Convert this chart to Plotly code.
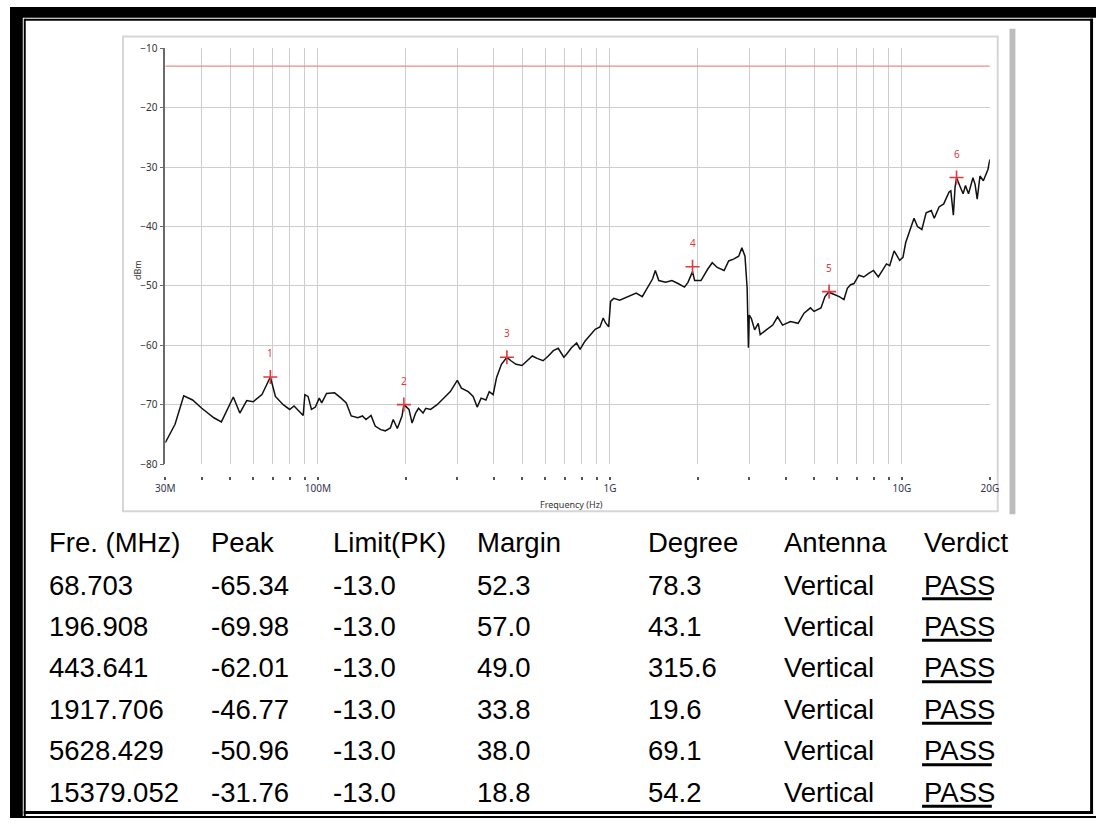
import numpy as np
import plotly.graph_objects as go

W, H = 1105, 825

# --- trace (MHz, dBm) ---
freq_mhz = [30.0, 32.4, 34.7, 37.2, 40.0, 44.0, 46.7, 51.3, 54.0, 57.0, 60.0, 64.3, 68.7,
            71.5, 76.0, 80.0, 82.8, 87.0, 89.0, 90.2, 92.5, 95.0, 98.0, 101, 103, 107, 114,
            120, 125, 130, 137, 142, 146, 152, 157, 164, 170, 177, 181, 187, 194, 196.9,
            205, 210, 216, 221, 229, 234, 243, 256, 270, 284, 300, 310, 327, 340, 351, 362,
            376, 386, 398, 409, 425, 443.6, 458, 477, 500, 523, 542, 563, 590, 615, 640, 665,
            695, 710, 738, 769, 790, 821, 855, 890, 924, 948, 965, 990, 1005, 1030, 1080,
            1150, 1230, 1290, 1330, 1400, 1430, 1470, 1550, 1630, 1710, 1800, 1850, 1917.7,
            1950, 2050, 2160, 2240, 2330, 2460, 2550, 2650, 2760, 2830, 2900, 2950, 2980,
            3000, 3050, 3130, 3220, 3270, 3430, 3610, 3750, 3900, 4150, 4410, 4620, 4860,
            5000, 5280, 5450, 5628, 5700, 5930, 6100, 6330, 6500, 6670, 6850, 7120, 7400,
            7690, 7990, 8300, 8630, 8850, 9080, 9400, 9820, 10080, 10300, 10700, 11000,
            11300, 11700, 12100, 12600, 12900, 13400, 13900, 14500, 14700, 15000, 15200,
            15379, 15850, 16200, 16500, 16900, 17500, 17800, 18100, 18500, 19000, 19400,
            19700, 20000]
level_dbm = [-76.4, -73.3, -68.5, -69.2, -70.6, -72.2, -72.9, -68.7, -71.4, -69.3, -69.5, -68.3,
             -65.34, -68.6, -70.0, -70.8, -70.2, -71.4, -71.8, -68.3, -68.6, -70.8, -70.4,
             -68.9, -69.7, -68.1, -68.0, -68.9, -69.7, -71.9, -72.2, -71.9, -72.5, -71.8,
             -73.6, -74.2, -74.4, -73.9, -72.5, -74.0, -71.9, -69.98, -70.8, -73.1, -71.4,
             -70.6, -71.4, -70.6, -70.8, -70.0, -68.9, -67.8, -65.9, -67.2, -67.8, -68.6,
             -70.4, -68.9, -69.2, -67.8, -68.3, -65.4, -63.2, -62.01, -62.6, -63.2, -63.4,
             -62.6, -61.8, -62.2, -62.6, -61.8, -60.9, -60.5, -62.0, -61.5, -60.4, -59.6,
             -60.7, -59.3, -58.2, -57.3, -56.9, -55.4, -56.2, -56.9, -52.6, -52.1, -52.4,
             -51.8, -51.2, -51.8, -50.7, -48.8, -47.4, -49.1, -49.4, -49.1, -49.6, -50.2,
             -49.4, -47.6, -49.1, -49.1, -47.2, -46.1, -46.9, -47.4, -45.8, -45.5, -45.0,
             -43.6, -45.0, -50.4, -60.4, -54.9, -55.5, -57.4, -56.3, -58.2, -57.4, -56.6,
             -55.2, -56.6, -56.0, -56.3, -54.6, -53.7, -54.3, -53.7, -51.8, -50.96, -51.2,
             -51.5, -51.8, -52.3, -50.4, -49.8, -49.6, -48.2, -48.5, -47.9, -47.4, -48.5,
             -47.1, -46.3, -46.6, -44.1, -45.7, -45.2, -42.7, -40.5, -38.6, -40.0, -40.5,
             -37.7, -37.3, -38.6, -36.7, -36.2, -34.2, -34.0, -38.1, -33.4, -31.8, -33.4,
             -34.5, -33.1, -34.5, -31.8, -32.9, -35.4, -31.5, -32.3, -31.2, -30.4, -28.7]

limit_freq = [30, 20000]
limit_dbm = -13.0

# --- peak table ---
marker_freq = [68.703, 196.908, 443.641, 1917.706, 5628.429, 15379.052]
marker_peak = [-65.34, -69.98, -62.01, -46.77, -50.96, -31.76]
marker_margin = [52.3, 57.0, 49.0, 33.8, 38.0, 18.8]
marker_degree = [78.3, 43.1, 315.6, 19.6, 69.1, 54.2]
marker_antenna = ["Vertical"] * 6
marker_verdict = ["PASS"] * 6
table_header = ["Fre. (MHz)", "Peak", "Limit(PK)", "Margin", "Degree", "Antenna", "Verdict"]

# axis ticks
grid_mhz = [30, 40, 50, 60, 70, 80, 90, 100, 200, 300, 400, 500, 600, 700, 800, 900,
            1000, 2000, 3000, 4000, 5000, 6000, 7000, 8000, 9000, 10000, 20000]
labelled = {30: "30M", 100: "100M", 1000: "1G", 10000: "10G", 20000: "20G"}
grid_text = [labelled.get(v, "") for v in grid_mhz]


def px(x):
    return x / W


def py(y):
    return 1 - y / H


plot_top, plot_bot = 42, 465
plot_left, plot_right = 158, 997

fig = go.Figure()

fig.add_trace(go.Scatter(
    x=limit_freq, y=[limit_dbm] * len(limit_freq), mode="lines",
    line=dict(color="#ef8a8a", width=1.2), hoverinfo="skip"))

fig.add_trace(go.Scatter(
    x=freq_mhz, y=level_dbm, mode="lines",
    line=dict(color="#111111", width=1.5)))

fig.add_trace(go.Scatter(
    x=marker_freq, y=marker_peak, mode="markers", xaxis="x2",
    marker=dict(symbol="cross-thin", size=10, line=dict(color="#e0383c", width=1.6))))

grid_col = "#cdcdcd"
fig.update_layout(
    width=W, height=H, margin=dict(l=0, r=0, t=0, b=0),
    paper_bgcolor="white", plot_bgcolor="white", showlegend=False,
    font=dict(family="Noto Sans", size=10, color="#333333"),
    xaxis=dict(type="log", range=[np.log10(30), np.log10(20000)],
               domain=[px(plot_left), px(plot_right)],
               tickvals=grid_mhz, showticklabels=False, ticks="",
               showgrid=True, gridcolor=grid_col, gridwidth=1, showline=False,
               zeroline=False),
    xaxis2=dict(type="log", matches="x", overlaying="x", anchor="free",
                position=py(plot_bot + 12),
                tickvals=grid_mhz, ticktext=grid_text, ticks="outside",
                ticklen=3, tickwidth=1.5, tickcolor="#555555",
                tickfont=dict(size=10, color="#34344f"),
                showgrid=False, showline=False, zeroline=False),
    yaxis=dict(range=[-80, -10], dtick=10, domain=[py(plot_bot), py(plot_top)],
               showgrid=True, gridcolor=grid_col, gridwidth=1,
               showline=True, linecolor="#6a6a6a", linewidth=1.5,
               ticks="outside", ticklen=4, tickcolor="#6a6a6a",
               tickfont=dict(size=10, color="#333333"), zeroline=False),
)

annotations = []
for i, (f, p) in enumerate(zip(marker_freq, marker_peak)):
    annotations.append(dict(x=np.log10(f), y=p, xref="x", yref="y", text=str(i + 1),
                            showarrow=False, yshift=24,
                            font=dict(size=10, color="#e0383c")))

annotations.append(dict(x=px(121), y=py(255), xref="paper", yref="paper", text="dBm",
                        textangle=-90, showarrow=False, font=dict(size=9, color="#333333")))
annotations.append(dict(x=px(571), y=py(506), xref="paper", yref="paper",
                        text="Frequency (Hz)", showarrow=False,
                        font=dict(size=9, color="#333333")))

# table
col_x = [38, 202, 327, 473, 647, 786, 928]
header_y = 545
row_y0, row_dy = 588, 42.2
table_font = dict(family="Liberation Sans, Arial", size=27.5, color="#000000")

for cx, txt in zip(col_x, table_header):
    annotations.append(dict(x=px(cx), y=py(header_y), xref="paper", yref="paper",
                            text=txt, showarrow=False, xanchor="left", yanchor="middle",
                            font=table_font))

shapes = []
for r in range(len(marker_freq)):
    cells = [f"{marker_freq[r]:.3f}", f"{marker_peak[r]:.2f}", f"{limit_dbm:.1f}",
             f"{marker_margin[r]:.1f}", f"{marker_degree[r]:.1f}", marker_antenna[r],
             marker_verdict[r]]
    yy = row_y0 + r * row_dy
    for cx, txt in zip(col_x, cells):
        annotations.append(dict(x=px(cx), y=py(yy), xref="paper", yref="paper",
                                text=txt, showarrow=False, xanchor="left",
                                yanchor="middle", font=table_font))
    # underline under verdict
    shapes.append(dict(type="line", xref="paper", yref="paper",
                       x0=px(col_x[-1]), x1=px(col_x[-1] + 71),
                       y0=py(yy + 14), y1=py(yy + 14),
                       line=dict(color="black", width=3)))

# chart panel frame and scrollbar shadow
shapes.append(dict(type="rect", xref="paper", yref="paper", x0=px(115), x1=px(1005),
                   y0=py(513), y1=py(30), line=dict(color="#d6d6d6", width=2),
                   layer="below"))
shapes.append(dict(type="rect", xref="paper", yref="paper", x0=px(1017), x1=px(1023),
                   y0=py(516), y1=py(22), line=dict(width=0), fillcolor="#bdbdbd"))

# page border
def black_rect(x0, x1, y0, y1):
    return dict(type="rect", xref="paper", yref="paper", x0=px(x0), x1=px(x1),
                y0=py(y1), y1=py(y0), line=dict(width=0), fillcolor="black")


shapes += [
    black_rect(0, W, 0, 11),
    black_rect(15, 1102, 12, 14),
    black_rect(0, 13, 0, H),
    black_rect(14, 16, 12, H),
    black_rect(1099, 1102, 12, 821),
    black_rect(14, 1102, 818, 821),
    black_rect(0, W, 823, H),
]

fig.update_layout(annotations=annotations, shapes=shapes)

fig.write_html("out.html", config={"displayModeBar": False},
               post_script="document.body.style.margin='0';")
